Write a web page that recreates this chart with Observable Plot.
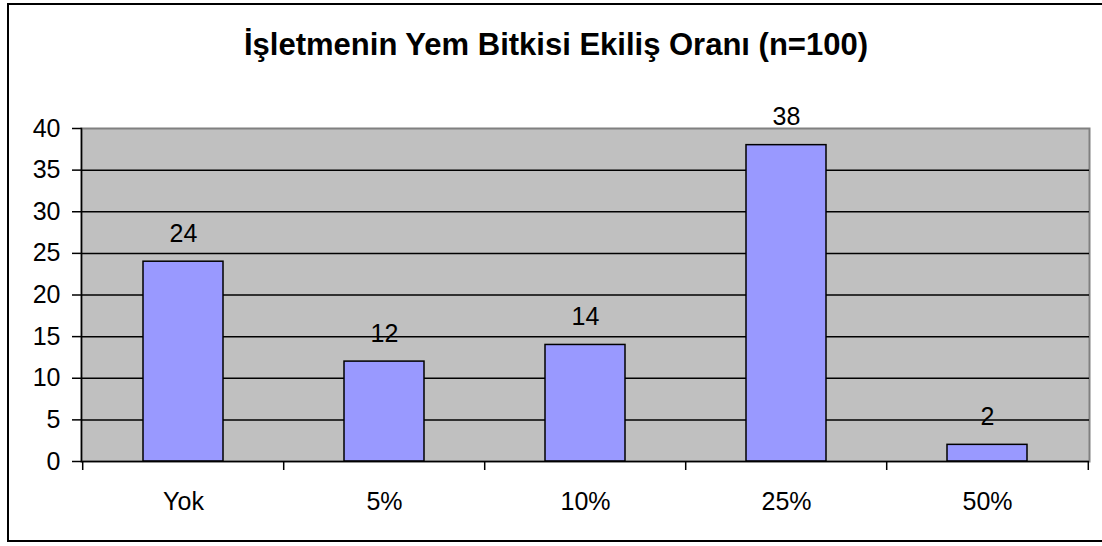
<!DOCTYPE html>
<html>
<head>
<meta charset="utf-8">
<script src="https://cdn.jsdelivr.net/npm/d3@7"></script>
<script src="https://cdn.jsdelivr.net/npm/@observablehq/plot@0.6"></script>
<style>
  html, body { margin: 0; padding: 0; background: #fff; overflow: hidden; }
  #wrap { position: relative; width: 1102px; height: 546px; overflow: hidden; font-family: Arial, "Liberation Sans", sans-serif; }
  #frame { position: absolute; left: 7px; top: 3px; width: 1110px; height: 539px; border: 2px solid #000; box-sizing: border-box; }
  #title { position: absolute; left: 5px; top: 29px; width: 1102px; text-align: center; font-weight: bold; font-size: 31px; line-height: 1; color: #000; }
  #chart { position: absolute; left: 0; top: 0; }
</style>
</head>
<body>
<div id="wrap">
  <div id="frame"></div>
  <div id="title">İşletmenin Yem Bitkisi Ekiliş Oranı (n=100)</div>
  <div id="chart"></div>
</div>
<script>
const categories = ["Yok", "5%", "10%", "25%", "50%"];
const values = [24, 12, 14, 38, 2];
const yTicks = [0, 5, 10, 15, 20, 25, 30, 35, 40];
const gridValues = [5, 10, 15, 20, 25, 30, 35];

const data = categories.map((c, i) => ({category: c, value: values[i]}));

const width = 1102, height = 546;
const marginLeft = 81, marginRight = 13, marginTop = 128, marginBottom = 85;
const step = (width - marginLeft - marginRight) / categories.length;

const plot = Plot.plot({
  width, height,
  marginLeft, marginRight, marginTop, marginBottom,
  style: {fontFamily: "Arial, 'Liberation Sans', sans-serif", fontSize: "25px", color: "#000", background: "transparent"},
  x: {domain: categories, paddingInner: 0.6, paddingOuter: 0.3, label: null},
  y: {domain: [0, 40], label: null},
  marks: [
    Plot.frame({fill: "#c0c0c0", stroke: "#808080", strokeWidth: 2}),
    Plot.ruleY(gridValues, {stroke: "#000", strokeWidth: 1.5}),
    Plot.barY(data, {x: "category", y: "value", fill: "#9999ff", stroke: "#000", strokeWidth: 1.5}),
    Plot.frame({anchor: "left", stroke: "#000", strokeWidth: 1.5}),
    Plot.ruleY([0], {stroke: "#000", strokeWidth: 1.5}),
    Plot.text(data, {x: "category", y: "value", text: d => String(d.value), dy: -28, fontSize: 25, fill: "#000"}),
    Plot.axisY({ticks: yTicks, tickSize: 9, tickPadding: 12, tickFormat: d => String(d), fontSize: 25, stroke: "#000", strokeWidth: 1.5}),
    Plot.axisX({tickSize: 0, tickPadding: 31, fontSize: 25}),
    Plot.axisX({tickSize: 9, tickFormat: () => "", dx: -step / 2, stroke: "#000", strokeWidth: 1.5}),
    Plot.axisX({ticks: [categories[categories.length - 1]], tickSize: 9, tickFormat: () => "", dx: step / 2, stroke: "#000", strokeWidth: 1.5})
  ]
});
document.getElementById("chart").appendChild(plot);
</script>
</body>
</html>
